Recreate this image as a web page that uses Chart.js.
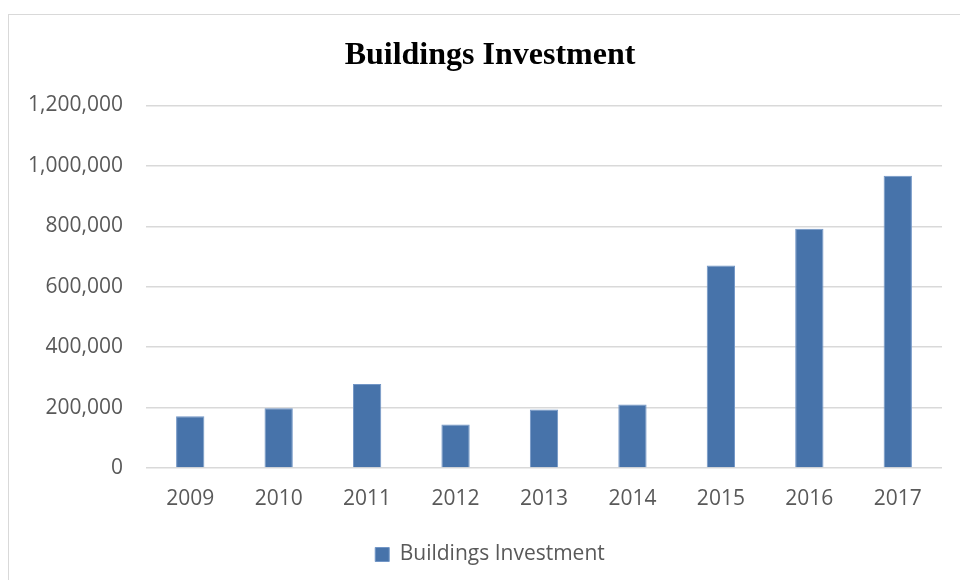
<!DOCTYPE html>
<html>
<head>
<meta charset="utf-8">
<script src="https://cdn.jsdelivr.net/npm/chart.js@4/dist/chart.umd.min.js"></script>
<style>
  html, body { margin: 0; padding: 0; background: #fff; overflow: hidden; }
  #frame {
    position: absolute; left: 8px; top: 14px;
    width: 970px; height: 580px;
    border-left: 1px solid #d9d9d9; border-top: 1px solid #d9d9d9;
  }
  #wrap { position: absolute; left: 0; top: 0; width: 962px; height: 565px; }
</style>
</head>
<body>
<div id="frame">
  <div id="wrap"><canvas id="barChart"></canvas></div>
</div>
<script>
// --- Data ---
const years = ['2009', '2010', '2011', '2012', '2013', '2014', '2015', '2016', '2017'];
const investment = [171000, 198000, 278000, 144000, 194000, 210000, 670000, 792000, 967000];
const yTicks = [0, 200000, 400000, 600000, 800000, 1000000, 1200000];

const barColor = '#4773aa';
const textGray = '#595959';
const tickFont = { family: "'Open Sans', sans-serif", size: 21 };

const ctx = document.getElementById('barChart').getContext('2d');
new Chart(ctx, {
  type: 'bar',
  data: {
    labels: years,
    datasets: [{
      label: 'Buildings Investment',
      data: investment,
      backgroundColor: barColor,
      borderColor: '#7296c6',
      borderWidth: 1,
      categoryPercentage: 1,
      barPercentage: 0.32
    }]
  },
  options: {
    responsive: true,
    maintainAspectRatio: false,
    animation: false,
    layout: { padding: { left: 0, right: 0, top: 0, bottom: 5 } },
    plugins: {
      title: {
        display: true,
        text: 'Buildings Investment',
        color: '#000',
        font: { family: "'Liberation Serif', 'Times New Roman', serif", size: 32, weight: 'bold' },
        padding: { top: 22, bottom: 30 }
      },
      legend: {
        position: 'bottom',
        labels: {
          color: textGray,
          font: tickFont,
          boxWidth: 14,
          boxHeight: 14,
          padding: 10
        }
      },
      tooltip: { enabled: false }
    },
    scales: {
      x: {
        grid: { display: false },
        border: { display: false },
        ticks: { color: textGray, font: tickFont, padding: 10, maxRotation: 0 },
        afterFit: s => { s.height = 66; }
      },
      y: {
        min: 0,
        max: 1200000,
        grid: { color: '#d9d9d9', lineWidth: 1.5, drawTicks: false },
        border: { display: false },
        ticks: {
          color: textGray,
          font: tickFont,
          padding: 23,
          stepSize: 200000,
          callback: v => yTicks.includes(v) ? v.toLocaleString('en-US') : ''
        },
        afterFit: s => { s.width = 137; }
      },
      // empty right-hand axis that keeps the plot clear of the right edge
      spacer: {
        type: 'linear',
        position: 'right',
        grid: { display: false },
        border: { display: false },
        ticks: { display: false },
        afterFit: s => { s.width = 29; }
      }
    }
  }
});
</script>
</body>
</html>
